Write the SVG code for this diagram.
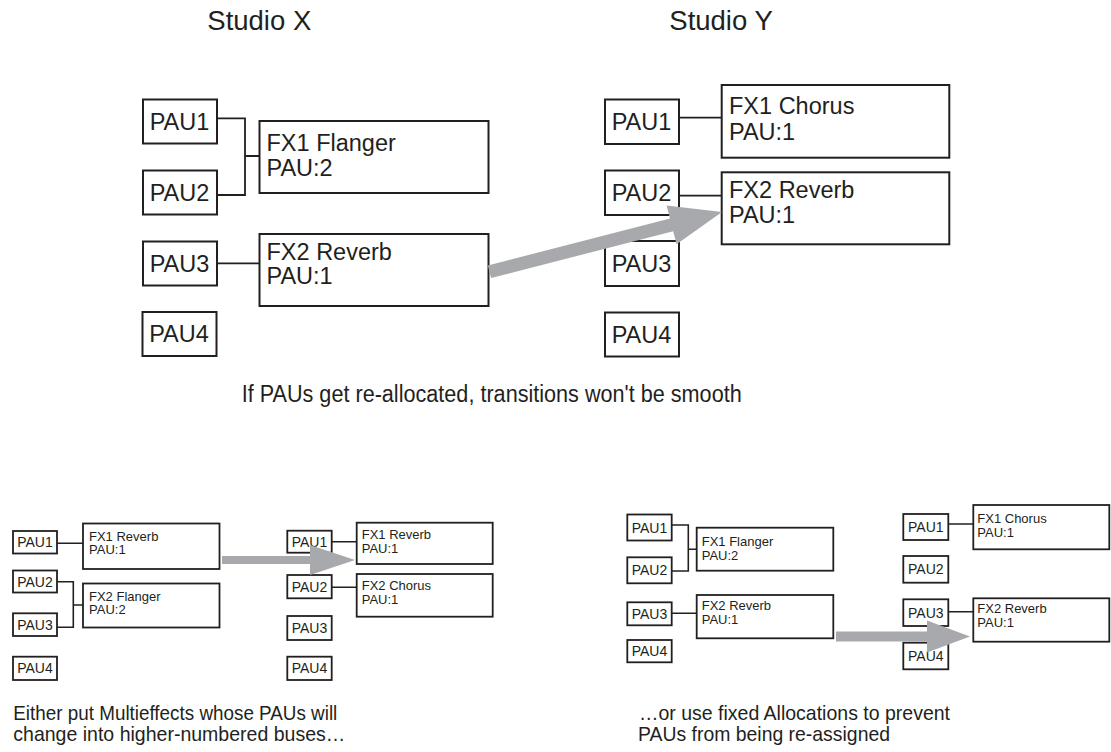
<svg xmlns="http://www.w3.org/2000/svg" width="1111" height="752" viewBox="0 0 1111 752">
<style>
text{font-family:"Liberation Sans",Arial,sans-serif;fill:#231f20}
.box{fill:#fff;stroke:#231f20;stroke-width:2}
.sbox{fill:#fff;stroke:#231f20;stroke-width:1.8}
.ln{fill:none;stroke:#231f20;stroke-width:1.8}
.sln{fill:none;stroke:#231f20;stroke-width:1.6}
.arr{fill:#a7a9ac}
.t{font-size:27.5px}
.p{font-size:23.5px;text-anchor:middle}
.fx{font-size:23.5px}
.sp{font-size:14px;text-anchor:middle}
.sfx{font-size:13px}
.cap{font-size:23px}
.bc{font-size:21px}
</style>
<rect width="1111" height="752" fill="#fff"/>
<text class="t" x="207.3" y="30">Studio X</text>
<text class="t" x="669.3" y="30">Studio Y</text>

<g id="connectors">
<path class="ln" d="M217,118.3H245V195H217M245,156H259.5M217,263.3H259.5"/>
<path class="ln" d="M679,117.7H721.7M679,195.7H721.7"/>
<path class="sln" d="M57,543.3H83M57,581.7H73.3V627.3H57M73.3,605H83"/>
<path class="sln" d="M331.7,541.7H356.7M331.7,587.3H356.7"/>
<path class="sln" d="M671.7,525H688.3V571H671.7M688.3,549.3H696.7M671.7,613.3H696.7"/>
<path class="sln" d="M948.3,524H973.3M948.3,611.7H973.3"/>
</g>

<g id="x-pau1"><rect class="box" x="143" y="99.5" width="74" height="44"/><text class="p" x="179.5" y="129.8">PAU1</text></g>
<g id="x-pau2"><rect class="box" x="143" y="170.5" width="74" height="44"/><text class="p" x="179.5" y="200.8">PAU2</text></g>
<g id="x-pau3"><rect class="box" x="143" y="241.5" width="74" height="44"/><text class="p" x="179.5" y="271.8">PAU3</text></g>
<g id="x-pau4"><rect class="box" x="142.5" y="312" width="74" height="44"/><text class="p" x="179" y="342.3">PAU4</text></g>
<g id="x-fx1"><rect class="box" x="259.5" y="121" width="229" height="72"/><text class="fx" x="266.5" y="150.5">FX1 Flanger</text><text class="fx" x="266.5" y="175.7">PAU:2</text></g>
<g id="x-fx2"><rect class="box" x="259.5" y="234" width="229" height="72"/><text class="fx" x="266.5" y="260">FX2 Reverb</text><text class="fx" x="266.5" y="284">PAU:1</text></g>

<g id="y-pau1"><rect class="box" x="605" y="99.5" width="74" height="44.5"/><text class="p" x="641.5" y="130">PAU1</text></g>
<g id="y-pau2"><rect class="box" x="605" y="170.5" width="74" height="44.5"/><text class="p" x="641.5" y="201">PAU2</text></g>
<g id="y-pau3"><rect class="box" x="605" y="241" width="74" height="45"/><text class="p" x="641.5" y="271.8">PAU3</text></g>
<g id="y-pau4"><rect class="box" x="605" y="312.5" width="74" height="44"/><text class="p" x="641.5" y="342.8">PAU4</text></g>
<g id="y-fx1"><rect class="box" x="721.7" y="85" width="227.6" height="72.7"/><text class="fx" x="729" y="114.3">FX1 Chorus</text><text class="fx" x="729" y="140">PAU:1</text></g>
<g id="y-fx2"><rect class="box" x="721.7" y="172.3" width="227.6" height="72"/><text class="fx" x="729" y="197.7">FX2 Reverb</text><text class="fx" x="729" y="222.7">PAU:1</text></g>

<g id="arrow-main"><polygon class="arr" points="487.9,265.4 670,218.6 666.6,205.5 722,212 676.6,244.3 673.2,231.2 491.1,278"/></g>

<text class="cap" x="241.7" y="401.7" textLength="500" lengthAdjust="spacingAndGlyphs">If PAUs get re-allocated, transitions won't be smooth</text>

<g id="a-pau1"><rect class="sbox" x="13" y="531" width="44" height="22.5"/><text class="sp" x="35" y="547.2">PAU1</text></g>
<g id="a-pau2"><rect class="sbox" x="13" y="570.5" width="44" height="22"/><text class="sp" x="35" y="586.5">PAU2</text></g>
<g id="a-pau3"><rect class="sbox" x="13" y="613.3" width="44" height="22.7"/><text class="sp" x="35" y="629.6">PAU3</text></g>
<g id="a-pau4"><rect class="sbox" x="13" y="656.7" width="44" height="23.3"/><text class="sp" x="35" y="673.3">PAU4</text></g>
<g id="a-fx1"><rect class="sbox" x="83" y="523.5" width="136.5" height="45.5"/><text class="sfx" x="89" y="540.5">FX1 Reverb</text><text class="sfx" x="89" y="553.8">PAU:1</text></g>
<g id="a-fx2"><rect class="sbox" x="83" y="583.5" width="136.5" height="44"/><text class="sfx" x="89" y="600.5">FX2 Flanger</text><text class="sfx" x="89" y="613.8">PAU:2</text></g>

<g id="b-pau1"><rect class="sbox" x="287.3" y="530.7" width="44.4" height="22"/><text class="sp" x="309.5" y="546.7">PAU1</text></g>
<g id="b-pau2"><rect class="sbox" x="287.3" y="575" width="44.4" height="23.3"/><text class="sp" x="309.5" y="591.7">PAU2</text></g>
<g id="b-pau3"><rect class="sbox" x="287.3" y="616" width="44.4" height="24"/><text class="sp" x="309.5" y="633">PAU3</text></g>
<g id="b-pau4"><rect class="sbox" x="287.3" y="656.7" width="44.4" height="23.3"/><text class="sp" x="309.5" y="673.3">PAU4</text></g>
<g id="b-fx1"><rect class="sbox" x="356.7" y="522.7" width="136" height="41.3"/><text class="sfx" x="361.7" y="539">FX1 Reverb</text><text class="sfx" x="361.7" y="553.3">PAU:1</text></g>
<g id="b-fx2"><rect class="sbox" x="356.7" y="574" width="136" height="42.7"/><text class="sfx" x="361.7" y="589.5">FX2 Chorus</text><text class="sfx" x="361.7" y="603.5">PAU:1</text></g>

<g id="arrow-a"><polygon class="arr" points="222,556 310,556 310,545 355,560 310,575 310,564 222,564"/></g>

<g id="c-pau1"><rect class="sbox" x="627.3" y="514.5" width="44.4" height="26"/><text class="sp" x="649.5" y="532.5">PAU1</text></g>
<g id="c-pau2"><rect class="sbox" x="627.3" y="557.3" width="44.4" height="26"/><text class="sp" x="649.5" y="575.3">PAU2</text></g>
<g id="c-pau3"><rect class="sbox" x="627.3" y="602.3" width="44.4" height="23"/><text class="sp" x="649.5" y="618.8">PAU3</text></g>
<g id="c-pau4"><rect class="sbox" x="627.3" y="640" width="44.4" height="22.3"/><text class="sp" x="649.5" y="656.2">PAU4</text></g>
<g id="c-fx1"><rect class="sbox" x="696.7" y="527.7" width="136.6" height="43"/><text class="sfx" x="701.7" y="545.7">FX1 Flanger</text><text class="sfx" x="701.7" y="560">PAU:2</text></g>
<g id="c-fx2"><rect class="sbox" x="696.7" y="595" width="136.6" height="43.3"/><text class="sfx" x="701.7" y="610">FX2 Reverb</text><text class="sfx" x="701.7" y="624">PAU:1</text></g>

<g id="d-pau1"><rect class="sbox" x="903.3" y="514" width="45" height="26"/><text class="sp" x="925.8" y="532">PAU1</text></g>
<g id="d-pau2"><rect class="sbox" x="903.3" y="556" width="45" height="26.7"/><text class="sp" x="925.8" y="574.3">PAU2</text></g>
<g id="d-pau3"><rect class="sbox" x="903.3" y="599.3" width="45" height="26.7"/><text class="sp" x="925.8" y="617.6">PAU3</text></g>
<g id="d-pau4"><rect class="sbox" x="903.3" y="642.7" width="45" height="26.6"/><text class="sp" x="925.8" y="661">PAU4</text></g>
<g id="d-fx1"><rect class="sbox" x="973.3" y="505" width="136" height="44.3"/><text class="sfx" x="977.3" y="523.3">FX1 Chorus</text><text class="sfx" x="977.3" y="537.3">PAU:1</text></g>
<g id="d-fx2"><rect class="sbox" x="973.3" y="598.3" width="136" height="43.4"/><text class="sfx" x="977.3" y="613.3">FX2 Reverb</text><text class="sfx" x="977.3" y="626.7">PAU:1</text></g>

<g id="arrow-c"><polygon class="arr" points="836,631.5 927,631.5 927,620.5 970,636.5 927,652.5 927,641.5 836,641.5"/></g>

<text class="bc" x="13.3" y="720" textLength="324" lengthAdjust="spacingAndGlyphs">Either put Multieffects whose PAUs will</text>
<text class="bc" x="13.3" y="741" textLength="332" lengthAdjust="spacingAndGlyphs">change into higher-numbered buses…</text>
<text class="bc" x="639" y="720" textLength="311" lengthAdjust="spacingAndGlyphs">…or use fixed Allocations to prevent</text>
<text class="bc" x="638" y="741" textLength="252" lengthAdjust="spacingAndGlyphs">PAUs from being re-assigned</text>
</svg>
